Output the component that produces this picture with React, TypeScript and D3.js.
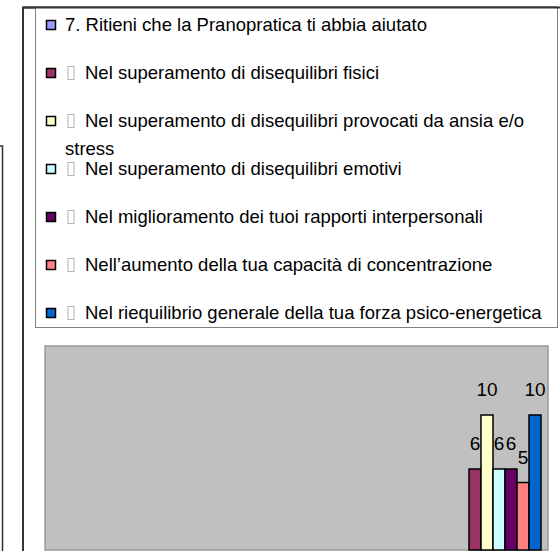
import React from 'react';
import * as d3 from 'd3';

// series names as they appear in the legend (first one is the question itself)
const seriesNames = [
  '7. Ritieni che la Pranopratica ti abbia aiutato',
  'Nel superamento di disequilibri fisici',
  'Nel superamento di disequilibri provocati da ansia e/o|stress',
  'Nel superamento di disequilibri emotivi',
  'Nel miglioramento dei tuoi rapporti interpersonali',
  "Nell’aumento della tua capacità di concentrazione",
  'Nel riequilibrio generale della tua forza psico-energetica',
];
const seriesValues: (number | null)[] = [null, 6, 10, 6, 6, 5, 10];
const seriesColors = ['#9999ff', '#993366', '#ffffcc', '#ccffff', '#660066', '#ff8080', '#0066cc'];
// rows that start with the missing-glyph bullet
const hasBullet = [false, true, true, true, true, true, true];

const width = 560;
const height = 551;
const font = '"Liberation Sans", Arial, sans-serif';

export default function App() {
  // plot area (partly cut off at the bottom of the page)
  const plot = { left: 45, top: 346, right: 548, bottom: 550 };

  const y = d3.scaleLinear().domain([0, 15]).range([plot.bottom, 347.5]);
  const x = d3
    .scaleBand<number>()
    .domain(d3.range(seriesNames.length))
    .range([plot.right - 91, plot.right - 7])
    .paddingInner(0);

  // legend rows
  const legendRow = d3.scaleLinear().domain([0, 6]).range([25, 313]);

  return (
    <svg
      width={width}
      height={height}
      style={{ position: 'absolute', left: 0, top: 0, background: '#fff' }}
      fontFamily={font}
    >
      {/* neighbouring chart frame, cut off at the left */}
      <path d="M-10,146 H2.5 V560" fill="none" stroke="#333" strokeWidth={1.5} />
      {/* outer chart frame */}
      <path d="M23,560 V7.5 H560" fill="none" stroke="#333" strokeWidth={2} />

      {/* legend box */}
      <rect x={35.5} y={7.5} width={522} height={320} fill="#fff" stroke="#808080" strokeWidth={1} />
      <line x1={23} x2={558} y1={7.5} y2={7.5} stroke="#333" strokeWidth={2} />

      {seriesNames.map((name, i) => {
        const cy = legendRow(i);
        const lines = name.split('|');
        const textX = 65;
        return (
          <g key={`leg-${i}`}>
            <rect x={46.5} y={cy - 4.5} width={9} height={9} fill={seriesColors[i]} stroke="#000" strokeWidth={1.5} />
            {hasBullet[i] && (
              <rect x={68} y={cy - 6.5} width={6} height={13} fill="#fff" stroke="#b4b4b4" strokeWidth={1} />
            )}
            <text x={hasBullet[i] ? 85 : textX} y={cy + 6} fontSize={18.5} fill="#000">
              {lines[0]}
            </text>
            {lines.slice(1).map((l, j) => (
              <text key={j} x={textX} y={cy + 6 + 28 * (j + 1)} fontSize={18.5} fill="#000">
                {l}
              </text>
            ))}
          </g>
        );
      })}

      {/* plot area */}
      <rect
        x={plot.left}
        y={plot.top}
        width={plot.right - plot.left}
        height={plot.bottom - plot.top}
        fill="#c0c0c0"
        stroke="#999"
        strokeWidth={1.5}
      />

      {/* bars */}
      {seriesValues.map((v, i) =>
        v == null ? null : (
          <rect
            key={`bar-${i}`}
            x={x(i)!}
            y={y(v)}
            width={x.bandwidth()}
            height={y(0) - y(v)}
            fill={seriesColors[i]}
            stroke="#000"
            strokeWidth={1.5}
          />
        )
      )}

      {/* value labels */}
      {seriesValues.map((v, i) =>
        v == null ? null : (
          <text
            key={`lab-${i}`}
            x={x(i)! + x.bandwidth() / 2}
            y={y(v) - 19}
            fontSize={19}
            textAnchor="middle"
            fill="#000"
          >
            {v}
          </text>
        )
      )}
    </svg>
  );
}
